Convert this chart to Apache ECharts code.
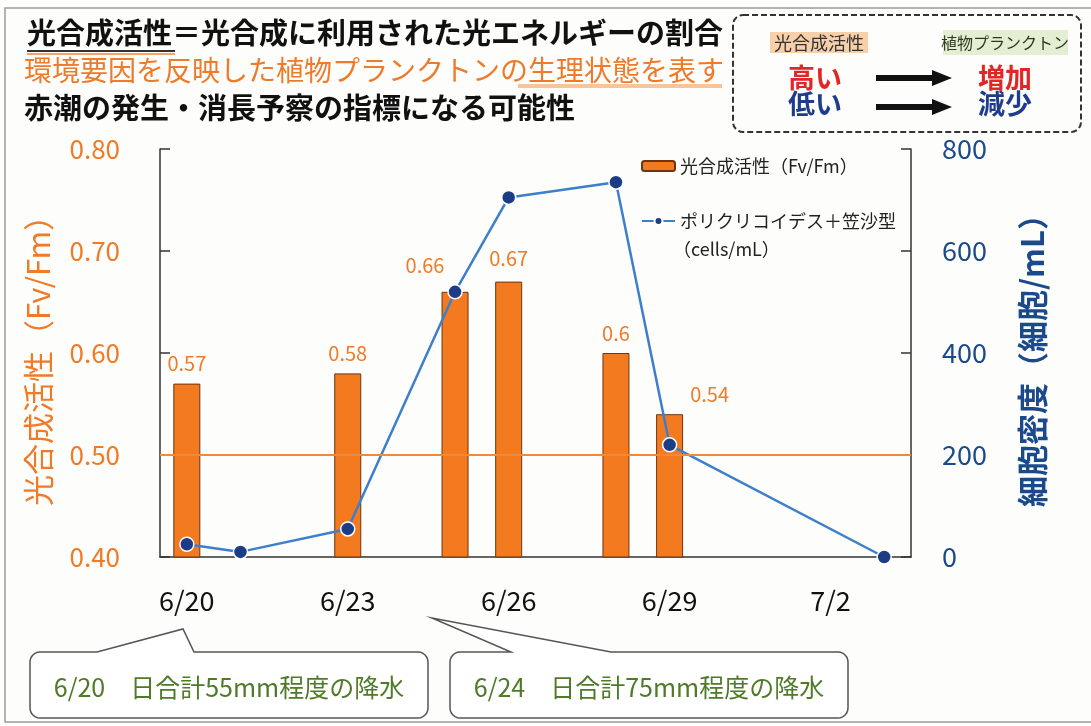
<!DOCTYPE html>
<html>
<head>
<meta charset="utf-8">
<script src="https://cdn.jsdelivr.net/npm/echarts@6/dist/echarts.min.js"></script>
<style>
  html, body { margin: 0; padding: 0; background: #fdfdfb; }
  #chart { width: 1091px; height: 726px; }
</style>
</head>
<body>
<div id="chart"></div>
<script>
const FONT = '"Noto Sans CJK JP", "Noto Sans", sans-serif'

// data
const days = ['6/20', '6/21', '6/22', '6/23', '6/24', '6/25', '6/26', '6/27', '6/28', '6/29', '6/30', '7/1', '7/2', '7/3']
const fvfm = [0.57, null, null, 0.58, null, 0.66, 0.67, null, 0.6, 0.54, null, null, null, null]
const cells = [25, 10, null, 55, null, 520, 705, null, 735, 220, null, null, null, 0]
const leftTicks = [0.4, 0.8, 0.1]
const rightTicks = [0, 800, 200]
const threshold = 0.5

const barName = '光合成活性（Fv/Fm）'
const lineName = 'ポリクリコイデス＋笠沙型'

const orange = '#f07a26'
const navy = '#1a4a8c'

// a couple of bar labels sit off-centre in the original
const labelShift = { 5: [-30, -6], 6: [0, -3], 9: [40, 0] }

// callout outline: rounded box with a pointer wedge on its top edge
function callout(x, y, w, h, r, p1, tip, p2) {
  const pts = []
  const arc = (cx, cy, a0, a1) => {
    for (let k = 0; k <= 6; k++) {
      const a = a0 + (a1 - a0) * k / 6
      pts.push([cx + r * Math.cos(a), cy + r * Math.sin(a)])
    }
  }
  arc(x + r, y + r, Math.PI, Math.PI * 1.5)
  pts.push([p1, y], tip, [p2, y])
  arc(x + w - r, y + r, Math.PI * 1.5, Math.PI * 2)
  arc(x + w - r, y + h - r, 0, Math.PI * 0.5)
  arc(x + r, y + h - r, Math.PI * 0.5, Math.PI)
  return pts
}

const myChart = echarts.init(document.getElementById('chart'))

const option = {
  backgroundColor: '#fdfdfb',
  textStyle: { fontFamily: FONT },
  grid: { left: 160, right: 180, top: 149, bottom: 169 },
  legend: [
    {
      data: [barName],
      left: 636, top: 152,
      itemWidth: 33, itemHeight: 10,
      textStyle: { fontSize: 18, color: '#222', fontFamily: FONT }
    },
    {
      data: [lineName],
      left: 636, top: 207,
      itemWidth: 33, itemHeight: 10,
      textStyle: { fontSize: 18, color: '#222', fontFamily: FONT }
    }
  ],
  xAxis: {
    type: 'category',
    data: days,
    boundaryGap: true,
    axisLine: { lineStyle: { color: '#333', width: 1.5 } },
    axisTick: { inside: true, length: 10, interval: 2, lineStyle: { color: '#333', width: 1.5 } },
    axisLabel: { interval: 2, margin: 30, fontSize: 27, color: '#111', fontFamily: FONT }
  },
  yAxis: [
    {
      type: 'value',
      min: leftTicks[0], max: leftTicks[1], interval: leftTicks[2],
      name: '光合成活性（Fv/Fm）',
      nameLocation: 'middle',
      nameRotate: 90,
      nameGap: 106,
      nameTextStyle: { fontSize: 31, color: orange, fontFamily: FONT },
      axisLine: { show: true, lineStyle: { color: '#333', width: 1.5 } },
      axisTick: { show: true, inside: true, length: 10, lineStyle: { color: '#333', width: 1.5 } },
      splitLine: { show: false },
      axisLabel: {
        margin: 40, fontSize: 26, color: orange, fontFamily: FONT,
        formatter: (v) => v.toFixed(2)
      }
    },
    {
      type: 'value',
      min: rightTicks[0], max: rightTicks[1], interval: rightTicks[2],
      name: '細胞密度（細胞/mL）',
      nameLocation: 'middle',
      nameRotate: 90,
      nameGap: 106,
      nameTextStyle: { fontSize: 31, color: navy, fontWeight: 'bold', fontFamily: FONT },
      axisLine: { show: true, lineStyle: { color: '#333', width: 1.5 } },
      axisTick: { show: true, inside: true, length: 10, lineStyle: { color: '#333', width: 1.5 } },
      splitLine: { show: false },
      axisLabel: { margin: 31, fontSize: 27, color: navy, fontFamily: FONT }
    }
  ],
  series: [
    {
      name: barName,
      type: 'bar',
      yAxisIndex: 0,
      barWidth: 27,
      itemStyle: { color: '#f37a1f', borderColor: '#6e3510', borderWidth: 1 },
      label: { show: true, position: 'top', distance: 10, fontSize: 20, color: orange, fontFamily: FONT },
      data: fvfm.map((v, i) => labelShift[i] ? { value: v, label: { offset: labelShift[i] } } : v),
      markLine: {
        silent: true,
        symbol: 'none',
        label: { show: false },
        lineStyle: { color: '#f08a3a', width: 2, type: 'solid' },
        data: [{ yAxis: threshold }]
      },
      z: 2
    },
    {
      name: lineName,
      type: 'line',
      yAxisIndex: 1,
      connectNulls: true,
      symbol: 'circle',
      symbolSize: 14,
      lineStyle: { color: '#3d7fcb', width: 2.5 },
      itemStyle: { color: '#1c3c86', borderColor: '#ffffff', borderWidth: 1.5 },
      data: cells,
      z: 3
    }
  ],
  graphic: [
    // scan frame
    { type: 'rect', shape: { x: 5, y: 8, width: 1100, height: 714 }, style: { fill: 'none', stroke: '#9a9a9a', lineWidth: 1.5 }, silent: true },
    // title lines
    { type: 'text', x: 27, y: 33, style: { text: '光合成活性＝光合成に利用された光エネルギーの割合', fill: '#111', fontSize: 29, fontWeight: 'bold', fontFamily: FONT, verticalAlign: 'middle' } },
    { type: 'line', shape: { x1: 27, y1: 51, x2: 175, y2: 51 }, style: { stroke: '#333', lineWidth: 2 } },
    { type: 'line', shape: { x1: 27, y1: 54, x2: 175, y2: 54 }, style: { stroke: '#f3a36a', lineWidth: 2 } },
    { type: 'rect', shape: { x: 518, y: 84, width: 204, height: 4 }, style: { fill: '#f6c59c' } },
    { type: 'text', x: 24, y: 70, style: { text: '環境要因を反映した植物プランクトンの生理状態を表す', fill: '#ef7a2a', fontSize: 28, fontFamily: FONT, verticalAlign: 'middle' } },
    { type: 'text', x: 24, y: 108, style: { text: '赤潮の発生・消長予察の指標になる可能性', fill: '#111', fontSize: 29, fontWeight: 'bold', fontFamily: FONT, verticalAlign: 'middle' } },
    // key box, top right
    { type: 'rect', shape: { x: 733, y: 15, width: 348, height: 117, r: 10 }, style: { fill: 'none', stroke: '#333', lineWidth: 2, lineDash: [6, 3] } },
    { type: 'rect', shape: { x: 770, y: 32, width: 98, height: 21 }, style: { fill: '#f7cfa8' } },
    { type: 'text', x: 819, y: 43, style: { text: '光合成活性', fill: '#333', fontSize: 18, fontFamily: FONT, align: 'center', verticalAlign: 'middle' } },
    { type: 'rect', shape: { x: 943, y: 30, width: 125, height: 25 }, style: { fill: '#e3eed3' } },
    { type: 'text', x: 1005, y: 43, style: { text: '植物プランクトン', fill: '#2b3a1e', fontSize: 16, fontFamily: FONT, align: 'center', verticalAlign: 'middle' } },
    { type: 'text', x: 815, y: 78, style: { text: '高い', fill: '#e02626', fontSize: 27, fontWeight: 'bold', fontFamily: FONT, align: 'center', verticalAlign: 'middle' } },
    { type: 'text', x: 815, y: 104, style: { text: '低い', fill: '#1e3c8c', fontSize: 27, fontWeight: 'bold', fontFamily: FONT, align: 'center', verticalAlign: 'middle' } },
    { type: 'text', x: 1005, y: 78, style: { text: '増加', fill: '#e02626', fontSize: 27, fontWeight: 'bold', fontFamily: FONT, align: 'center', verticalAlign: 'middle' } },
    { type: 'text', x: 1005, y: 104, style: { text: '減少', fill: '#1e3c8c', fontSize: 27, fontWeight: 'bold', fontFamily: FONT, align: 'center', verticalAlign: 'middle' } },
    { type: 'polygon', shape: { points: [[876, 75], [932, 75], [932, 70], [952, 78], [932, 86], [932, 81], [876, 81]] }, style: { fill: '#111' } },
    { type: 'polygon', shape: { points: [[876, 104], [932, 104], [932, 99], [952, 107], [932, 115], [932, 110], [876, 110]] }, style: { fill: '#111' } },
    // rain callouts
    {
      type: 'polygon',
      shape: { points: callout(30, 652, 398, 66, 10, 97, [183, 629], 194) },
      style: { fill: '#ffffff', stroke: '#555', lineWidth: 1.5 }
    },
    { type: 'text', x: 229, y: 687, style: { text: '6/20　日合計55mm程度の降水', fill: '#4f7a28', fontSize: 25, fontFamily: FONT, align: 'center', verticalAlign: 'middle' } },
    {
      type: 'polygon',
      shape: { points: callout(450, 652, 398, 66, 10, 511, [432, 618], 611) },
      style: { fill: '#ffffff', stroke: '#555', lineWidth: 1.5 }
    },
    { type: 'text', x: 649, y: 687, style: { text: '6/24　日合計75mm程度の降水', fill: '#4f7a28', fontSize: 25, fontFamily: FONT, align: 'center', verticalAlign: 'middle' } },
    // second line of the line-series legend
    { type: 'text', x: 673, y: 249, style: { text: '（cells/mL）', fill: '#222', fontSize: 18, fontFamily: FONT, verticalAlign: 'middle' } }
  ]
}

myChart.setOption(option)
</script>
</body>
</html>
